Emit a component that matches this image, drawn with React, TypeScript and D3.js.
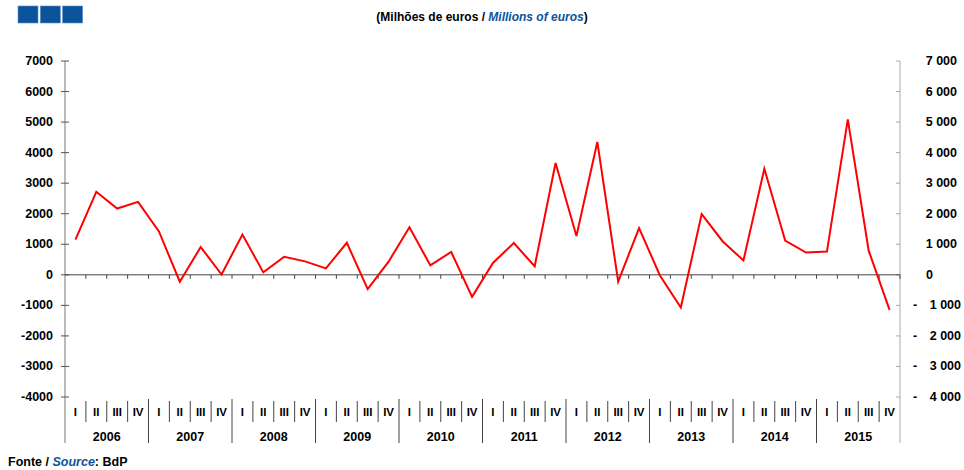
import React from 'react';
import { scaleBand, scaleLinear, line, range, formatLocale } from 'd3';

const width = 964;
const height = 470;

const years = ['2006', '2007', '2008', '2009', '2010', '2011', '2012', '2013', '2014', '2015'];
const quarters = ['I', 'II', 'III', 'IV'];

// millions of euros, one per quarter from 2006 I to 2015 IV
const values = [
    1150, 2720, 2170, 2390,
    1420, -225, 910, 10,
    1320, 80, 590, 440,
    210, 1050, -470, 430,
    1560, 310, 750, -720,
    390, 1040, 280, 3660,
    1270, 4350, -220, 1530,
    -20, -1070, 1990, 1100,
    470, 3470, 1120, 730,
    760, 5090, 790, -1150,
];

const yTicks = [7000, 6000, 5000, 4000, 3000, 2000, 1000, 0, -1000, -2000, -3000, -4000];

const left = 65;
const right = 900;
const top = 61;
const bottom = 397;

const font = '"Liberation Sans", Arial, sans-serif';
const blue = '#0b549c';

const periods = years.flatMap(y => quarters.map(q => `${y} ${q}`));

const x = scaleBand<string>()
    .domain(periods)
    .range([left, right])
    .padding(0);

const y = scaleLinear()
    .domain([-4000, 7000])
    .range([bottom, top]);

const spaced = formatLocale({ thousands: ' ', grouping: [3], decimal: ',', currency: ['', ''] }).format(',d');

const path = line<number>()
    .x((d, i) => x(periods[i])! + x.bandwidth() / 2)
    .y(d => y(d));

export default function App() {
    const bw = x.bandwidth();

    return (
        <svg width={width} height={height} style={{ position: 'absolute', left: 0, top: 0, background: '#fff' }}
            fontFamily={font} fontWeight="bold">

            {/* three blue squares, top left */}
            {range(3).map(i => (
                <rect key={i} x={18 + i * 22.3} y={6} width={20} height={17} fill={blue} stroke="#5b8fc4" strokeWidth={0.6} />
            ))}

            <text x={width / 2} y={21} textAnchor="middle" fontSize={12} fill="#000">
                (Milhões de euros / <tspan fill={blue} fontStyle="italic">Millions of euros</tspan>)
            </text>

            {/* left axis */}
            <line x1={left} x2={left} y1={top} y2={443} stroke="#777" strokeWidth={1} />
            {yTicks.map(t => (
                <g key={'l' + t}>
                    <line x1={left - 4} x2={left + 4} y1={y(t)} y2={y(t)} stroke="#555" />
                    <text x={53} y={y(t) + 4} textAnchor="end" fontSize={12.5}>{t}</text>
                </g>
            ))}

            {/* right axis */}
            <line x1={right} x2={right} y1={top} y2={443} stroke="#aaa" strokeWidth={1} />
            {yTicks.map(t => (
                <g key={'r' + t}>
                    <line x1={right - 4} x2={right} y1={y(t)} y2={y(t)} stroke="#aaa" />
                    {t > 0 && <text x={957} y={y(t) + 4} textAnchor="end" fontSize={12.5}>{spaced(t)}</text>}
                    {t === 0 && <text x={933} y={y(t) + 4} textAnchor="end" fontSize={12.5}>0</text>}
                    {t < 0 && <>
                        <text x={913} y={y(t) + 4} fontSize={12.5}>-</text>
                        <text x={961} y={y(t) + 4} textAnchor="end" fontSize={12.5}>{spaced(-t)}</text>
                    </>}
                </g>
            ))}

            {/* zero line with quarter ticks */}
            <line x1={left} x2={right} y1={y(0)} y2={y(0)} stroke="#444" strokeWidth={1} />
            {periods.map(p => (
                <line key={'z' + p} x1={x(p)! + bw} x2={x(p)! + bw} y1={y(0)} y2={y(0) + 4} stroke="#444" />
            ))}

            {/* category axis: quarters and years */}
            {periods.map((p, i) => {
                const q = quarters[i % 4];
                const x0 = x(p)!;
                return (
                    <g key={'q' + p}>
                        {i % 4 !== 0 && <line x1={x0} x2={x0} y1={401} y2={422} stroke="#444" />}
                        <text x={x0 + bw / 2} y={416} textAnchor="middle" fontSize={11.5}>{q}</text>
                    </g>
                );
            })}
            {years.map((yr, i) => {
                const x0 = x(`${yr} I`)!;
                const x1 = x0 + bw * 4;
                return (
                    <g key={'y' + yr}>
                        {i > 0 && <line x1={x0} x2={x0} y1={399} y2={443} stroke="#444" />}
                        <text x={(x0 + x1) / 2} y={441} textAnchor="middle" fontSize={12.5}>{yr}</text>
                    </g>
                );
            })}

            <path d={path(values)!} fill="none" stroke="#ff0000" strokeWidth={2} strokeLinejoin="miter" />

            <text x={8} y={466} fontSize={12.5}>
                Fonte / <tspan fill={blue} fontStyle="italic">Source</tspan>: BdP
            </text>
        </svg>
    );
}
